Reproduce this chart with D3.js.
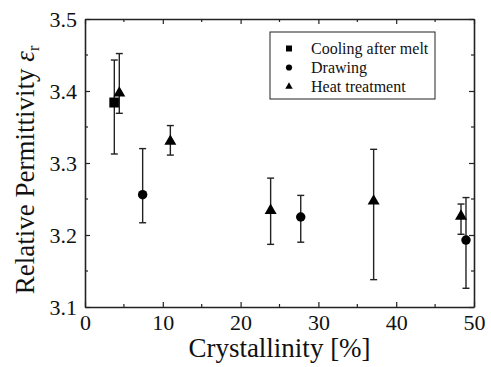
<!DOCTYPE html>
<html>
<head>
<meta charset="utf-8">
<script src="https://cdn.jsdelivr.net/npm/d3@7"></script>
<style>
  body { margin: 0; background: #fff; }
  svg { display: block; }
  svg text { font-family: "Liberation Serif", "Times New Roman", serif; }
</style>
</head>
<body>
<svg id="chart" width="491" height="367"></svg>
<script>
// values
const coolingX = [3.77]
const coolingY = [3.384]
const coolingLo = [3.3125]
const coolingHi = [3.443]

const drawingX = [7.41, 27.73, 48.97]
const drawingY = [3.256, 3.225, 3.193]
const drawingLo = [3.217, 3.190, 3.126]
const drawingHi = [3.320, 3.255, 3.252]

const heatX = [4.41, 10.97, 23.86, 37.1, 48.33]
const heatY = [3.397, 3.330, 3.234, 3.247, 3.226]
const heatLo = [3.369, 3.311, 3.187, 3.138, 3.201]
const heatHi = [3.452, 3.352, 3.279, 3.319, 3.243]

const xTicks = [0, 10, 20, 30, 40, 50]
const yTicks = [3.1, 3.2, 3.3, 3.4, 3.5]
const seriesNames = ["Cooling after melt", "Drawing", "Heat treatment"]

function drawChart(){
  const svg = d3.select("#chart")
  const margin = {top: 19, right: 17, bottom: 60, left: 85}
  const width = 491, height = 367
  const serif = "Liberation Serif"

  const x = d3.scaleLinear().domain([0, 50]).range([margin.left, width - margin.right])
  const y = d3.scaleLinear().domain([3.1, 3.5]).range([height - margin.bottom, margin.top])

  const ink = "#222"

  // frame with inward ticks on all sides
  const frame = (g, axis, tr) => g.attr("transform", tr).call(axis)
    .attr("font-family", null).attr("font-size", null)
    .call(g => g.select(".domain").attr("stroke", ink).attr("stroke-width", 1.6))
    .call(g => g.selectAll(".tick line").attr("stroke", ink).attr("stroke-width", 1.2))

  const minorX = d3.range(5, 50, 10)
  const minorY = d3.range(3.15, 3.5, 0.1)

  svg.append("g").call(frame, d3.axisBottom(x).tickValues(xTicks).tickSizeInner(-5).tickSizeOuter(0).tickFormat(d3.format("d")),
    `translate(0,${y(3.1)})`)
    .call(g => g.selectAll("text").attr("dy", null).attr("y", 23)
      .attr("font-size", 22).attr("fill", "#111").attr("font-family", serif))
  svg.append("g").call(frame, d3.axisTop(x).tickValues(xTicks).tickSizeInner(-5).tickSizeOuter(0).tickFormat(""),
    `translate(0,${y(3.5)})`)
  svg.append("g").call(frame, d3.axisLeft(y).tickValues(yTicks).tickSizeInner(-5).tickSizeOuter(0).tickPadding(8).tickFormat(d3.format(".1f")),
    `translate(${x(0)},0)`)
    .call(g => g.selectAll("text").attr("font-size", 22).attr("fill", "#111").attr("font-family", serif))
  svg.append("g").call(frame, d3.axisRight(y).tickValues(yTicks).tickSizeInner(-5).tickSizeOuter(0).tickFormat(""),
    `translate(${x(50)},0)`)

  // minor ticks
  const minor = svg.append("g").attr("stroke", ink).attr("stroke-width", 1.2)
  minorX.forEach(v => {
    minor.append("line").attr("x1", x(v)).attr("x2", x(v)).attr("y1", y(3.1)).attr("y2", y(3.1) - 3)
    minor.append("line").attr("x1", x(v)).attr("x2", x(v)).attr("y1", y(3.5)).attr("y2", y(3.5) + 3)
  })
  minorY.forEach(v => {
    minor.append("line").attr("x1", x(0)).attr("x2", x(0) + 3).attr("y1", y(v)).attr("y2", y(v))
    minor.append("line").attr("x1", x(50)).attr("x2", x(50) - 3).attr("y1", y(v)).attr("y2", y(v))
  })

  // axis titles
  svg.append("text")
    .attr("x", (x(0) + x(50)) / 2).attr("y", 357)
    .attr("text-anchor", "middle").attr("font-size", 27).attr("fill", "#111")
    .attr("font-family", serif)
    .text("Crystallinity [%]")

  const yt = svg.append("text")
    .attr("transform", `translate(34,170) rotate(-90)`)
    .attr("text-anchor", "middle").attr("font-size", 27).attr("fill", "#111")
    .attr("font-family", serif)
  yt.append("tspan").text("Relative Permittivity  ")
  yt.append("tspan").attr("font-style", "italic").text("ε")
  yt.append("tspan").attr("font-size", 16).attr("dy", 5).text("r")

  const series = [
    {xs: coolingX, ys: coolingY, lo: coolingLo, hi: coolingHi, sym: d3.symbolSquare, size: 100, lsize: 36},
    {xs: drawingX, ys: drawingY, lo: drawingLo, hi: drawingHi, sym: d3.symbolCircle, size: 70, lsize: 30},
    {xs: heatX, ys: heatY, lo: heatLo, hi: heatHi, sym: d3.symbolTriangle, size: 62, lsize: 24}
  ]

  const cap = 3.5
  series.forEach(s => {
    const pts = s.xs.map((v, i) => ({x: v, y: s.ys[i], lo: s.lo[i], hi: s.hi[i]}))
    const eb = svg.append("g").attr("stroke", ink).attr("stroke-width", 1.4).attr("fill", "none")
    pts.forEach(d => {
      eb.append("line").attr("x1", x(d.x)).attr("x2", x(d.x)).attr("y1", y(d.lo)).attr("y2", y(d.hi))
      eb.append("line").attr("x1", x(d.x) - cap).attr("x2", x(d.x) + cap).attr("y1", y(d.lo)).attr("y2", y(d.lo))
      eb.append("line").attr("x1", x(d.x) - cap).attr("x2", x(d.x) + cap).attr("y1", y(d.hi)).attr("y2", y(d.hi))
    })
    svg.append("g").selectAll("path").data(pts).join("path")
      .attr("transform", d => `translate(${x(d.x)},${y(d.y)})`)
      .attr("d", d3.symbol(s.sym, s.size))
      .attr("fill", "#000")
  })

  // legend
  const lg = svg.append("g").attr("transform", "translate(270,32)")
  lg.append("rect").attr("width", 165).attr("height", 67)
    .attr("fill", "#fff").attr("stroke", ink).attr("stroke-width", 1)
  series.forEach((s, i) => {
    const row = lg.append("g").attr("transform", `translate(0,${16.5 + i * 19})`)
    row.append("path").attr("transform", "translate(19,0)")
      .attr("d", d3.symbol(s.sym, s.lsize)).attr("fill", "#000")
    row.append("text").attr("x", 41).attr("y", 5.5).attr("font-size", 16).attr("fill", "#111")
      .attr("font-family", serif)
      .text(seriesNames[i])
  })
}

drawChart()
</script>
</body>
</html>
